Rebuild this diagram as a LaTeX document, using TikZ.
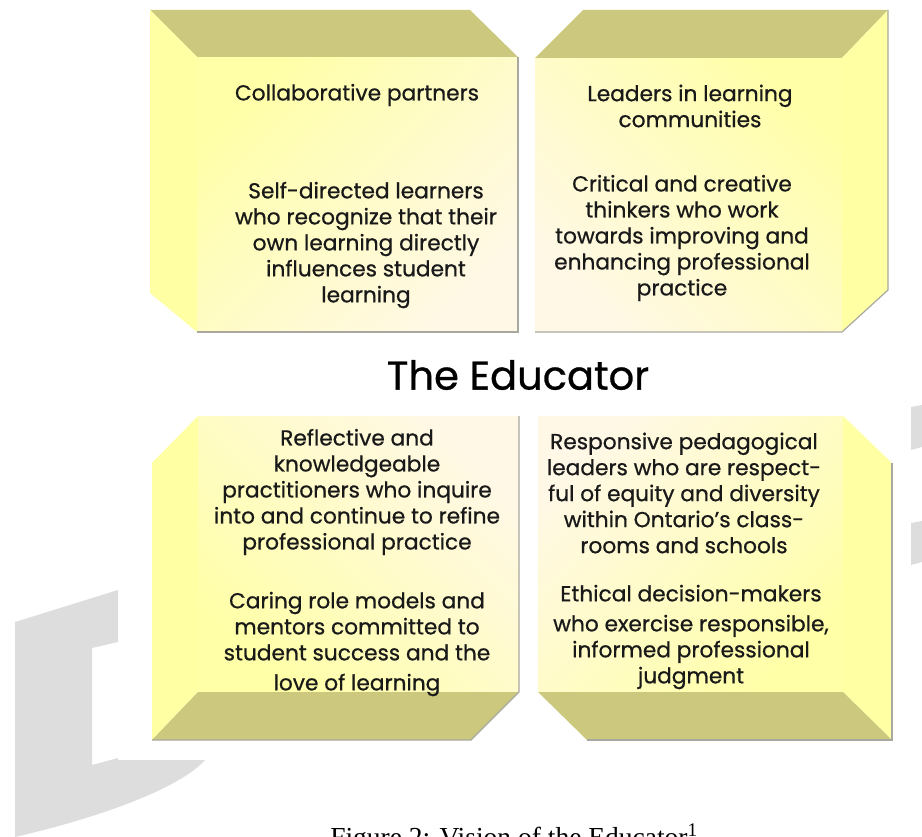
\documentclass[tikz,border=0pt]{standalone}
\usepackage{fontspec}
\setmainfont{Poppins}[FakeBold=0.7]
\newfontfamily\capfont{Liberation Serif}
\definecolor{olive}{HTML}{CCC97E}
\definecolor{sidey}{HTML}{FFFFA4}
\definecolor{yel}{HTML}{FFFFA8}
\definecolor{cream}{HTML}{FFF8E6}
\definecolor{wm}{HTML}{DDDDDD}
\definecolor{shadowc}{HTML}{A8A8A0}
\begin{document}
\begin{tikzpicture}[x=1pt,y=-1pt,
  topface/.style={fill=olive},
  sideface/.style={fill=sidey},
  edgeline/.style={draw=shadowc,line width=1.2pt},
  txt/.style={align=center,inner sep=0pt,text=black!90,font=\fontsize{21.7}{26}\selectfont},
  wmark/.style={fill=wm}]
\useasboundingbox (0,0) rectangle (922,837);
% watermark shapes
\fill[wmark] (15,622) -- (118,590) -- (118,642) -- (92,648) -- (92,765) -- (118,758)
  -- (118,760) -- (205,760) .. controls (182,786) and (110,815) .. (15,837) -- cycle;
\fill[wmark] (911,407) -- (922,405) -- (922,447) -- (911,450) -- cycle;
\fill[wmark] (911,523) -- (922,521) -- (922,562) -- (911,565) -- cycle;
% top-left box
\shade[top color=yel,bottom color=cream,shading angle=45] (197,57) rectangle (518,332);
\fill[topface] (150,10) -- (470,10) -- (518,57) -- (197,57) -- cycle;
\fill[sideface] (150,10) -- (197,57) -- (197,332) -- (150,293) -- cycle;
\draw[edgeline] (518,57) -- (518,332) -- (197,332);
% top-right box
\shade[top color=yel,bottom color=cream,shading angle=-45] (535,58) rectangle (842,332);
\fill[topface] (583,10) -- (888,10) -- (842,58) -- (535,58) -- cycle;
\fill[sideface] (842,58) -- (888,10) -- (888,290) -- (842,332) -- cycle;
\draw[edgeline] (888,10) -- (888,290) -- (842,332) -- (535,332);
% bottom-left box
\shade[top color=yel,bottom color=cream,shading angle=135] (198,416) rectangle (519,692);
\fill[sideface] (152,463) -- (198,416) -- (198,692) -- (152,740) -- cycle;
\fill[topface] (198,692) -- (519,692) -- (471,740) -- (152,740) -- cycle;
\draw[edgeline] (519,416) -- (519,692) -- (471,740) -- (152,740);
% bottom-right box
\shade[top color=yel,bottom color=cream,shading angle=-135] (538,416) rectangle (843,692);
\fill[sideface] (843,416) -- (892,463) -- (892,740) -- (843,692) -- cycle;
\fill[topface] (538,692) -- (843,692) -- (892,740) -- (587,740) -- cycle;
\draw[edgeline] (892,463) -- (892,740) -- (587,740);
% texts
\node[txt] (tl1) at (357,95) {Collaborative partners};
\node[txt] (tl2) at (366,245) {Self-directed learners\\who recognize that their\\own learning directly\\influences student\\learning};
\node[txt] (tr1) at (690,106) {Leaders in learning\\communities};
\node[txt] (tr2) at (682,238) {Critical and creative\\thinkers who work\\towards improving and\\enhancing professional\\practice};
\node[font=\fontsize{40}{48}\selectfont,inner sep=0pt] (title) at (518,375) {The Educator};
\node[txt] (bl1) at (357,492) {Reflective and\\knowledgeable\\practitioners who inquire\\into and continue to refine\\professional practice};
\node[txt] (bl2) at (357,644) {Caring role models and\\mentors committed to\\student success and the\\[4pt]love of learning};
\node[txt] (br1) at (684,493) {Responsive pedagogical\\leaders who are respect-\\ful of equity and diversity\\within Ontario’s class-\\rooms and schools};
\node[txt] (br2) at (691,637) {Ethical decision-makers\\[4pt]who exercise responsible,\\informed professional\\judgment};
\node[font=\capfont\fontsize{27.5}{32}\selectfont,inner sep=0pt,anchor=base] (cap) at (514,846) {Figure 2: Vision of the Educator\textsuperscript{1}};
\end{tikzpicture}
\end{document}
